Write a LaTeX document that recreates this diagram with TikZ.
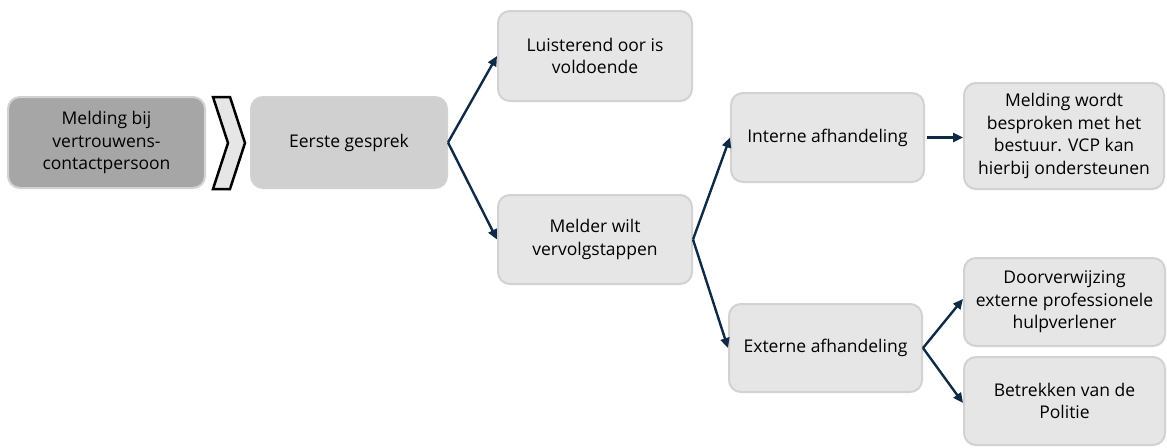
\documentclass[tikz,border=0pt]{standalone}
\usepackage{fontspec}
\setmainfont{Open Sans}
\usetikzlibrary{arrows.meta}
\definecolor{boxfill}{HTML}{E6E6E6}
\definecolor{boxline}{HTML}{D2D2D2}
\definecolor{darkfill}{HTML}{A6A6A6}
\definecolor{midfill}{HTML}{D0D0D0}
\definecolor{arrowcol}{HTML}{0F2A47}
\begin{document}
\begin{tikzpicture}[x=1pt,y=-1pt,
  stepbox/.style={draw=boxline, line width=2pt, fill=boxfill, rounded corners=12pt,
    align=center, inner sep=2pt, font=\fontsize{17.5}{22.5}\selectfont, text=black},
  conn/.style={draw=arrowcol, line width=2.4pt, -{Triangle[length=10pt,width=9pt]}}]
\useasboundingbox (0,0) rectangle (1167,447);
\node[stepbox, fill=darkfill, minimum width=197pt, minimum height=91pt] (b1) at (106.5,142.5) {Melding bij\\vertrouwens-\\contactpersoon};
\node[stepbox, fill=midfill, minimum width=196pt, minimum height=91pt] (b2) at (349,142.5) {Eerste gesprek};
\node[stepbox, minimum width=194pt, minimum height=90pt] (b3) at (595,56) {Luisterend oor is\\voldoende};
\node[stepbox, minimum width=194pt, minimum height=89pt] (b4) at (595,239.5) {Melder wilt\\vervolgstappen};
\node[stepbox, minimum width=193pt, minimum height=89pt] (b5) at (827.5,137.5) {Interne afhandeling};
\node[stepbox, minimum width=200pt, minimum height=106pt] (b6) at (1064,136) {Melding wordt\\besproken met het\\bestuur. VCP kan\\hierbij ondersteunen};
\node[stepbox, minimum width=193pt, minimum height=88pt] (b7) at (825.5,348) {Externe afhandeling};
\node[stepbox, minimum width=201pt, minimum height=88pt] (b8) at (1064.5,302) {Doorverwijzing\\externe professionele\\hulpverlener};
\node[stepbox, minimum width=201pt, minimum height=88pt] (b9) at (1064.5,401) {Betrekken van de\\Politie};
\draw[line width=2.5pt, fill=boxfill, line join=miter] (213,97) coordinate (c1) -- (230,97) -- (245,143) -- (230,189) -- (213,189) -- (228,143) -- cycle;
\draw[conn] (b2.east) -- (b3.west);
\draw[conn] (b2.east) -- (b4.west);
\draw[conn] (b4.east) -- (b5.west);
\draw[conn] (b4.east) -- (b7.west);
\draw[conn] ([xshift=2pt]b5.east) -- (b5.east -| b6.west);
\draw[conn] (b7.east) -- ([yshift=3pt]b8.west);
\draw[conn] (b7.east) -- ([yshift=-2pt]b9.west);
\end{tikzpicture}
\end{document}
